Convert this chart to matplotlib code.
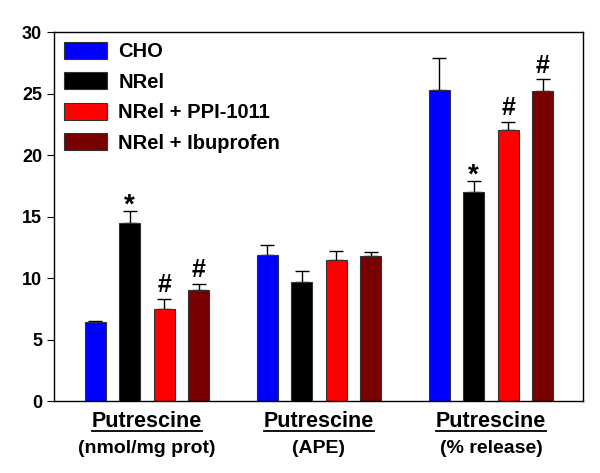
import numpy as np
import matplotlib.pyplot as plt
from matplotlib.lines import Line2D

plt.rcParams['font.family'] = ['Liberation Sans', 'DejaVu Sans']
plt.rcParams['font.weight'] = 'bold'

groups = ['(nmol/mg prot)', '(APE)', '(% release)']
series = ['CHO', 'NRel', 'NRel + PPI-1011', 'NRel + Ibuprofen']
colors = ['#0000FF', '#000000', '#FF0000', '#780000']

means = [
    [6.4, 11.9, 25.3],   # CHO
    [14.5, 9.7, 17.0],   # NRel
    [7.5, 11.5, 22.0],   # NRel + PPI-1011
    [9.0, 11.8, 25.2],   # NRel + Ibuprofen
]
errs = [
    [0.13, 0.75, 2.6],
    [0.92, 0.9, 0.85],
    [0.78, 0.7, 0.68],
    [0.5, 0.33, 0.94],
]
marks = [
    ['', '', ''],
    ['*', '', '*'],
    ['#', '', '#'],
    ['#', '', '#'],
]

fig = plt.figure(figsize=(6, 4.73), dpi=100)
ax = fig.add_axes([54 / 600, 1 - 401 / 473, 529 / 600, 369 / 473])

x = np.arange(len(groups))
w = 0.122
step = 0.2
for i, name in enumerate(series):
    pos = x + (i - 1.5) * step
    ax.bar(pos, means[i], w, color=colors[i], edgecolor='#333333', linewidth=0.8,
           label=name, zorder=2)
    ax.errorbar(pos, means[i], yerr=[np.zeros(3), errs[i]], fmt='none',
                ecolor='black', elinewidth=1, capsize=5, capthick=1, zorder=1)
    for j in range(3):
        if marks[i][j]:
            top = means[i][j] + errs[i][j]
            if marks[i][j] == '#':
                ax.text(pos[j], top + 0.15, '#', ha='center', va='bottom',
                        fontsize=18, fontweight='bold')
            else:
                ax.text(pos[j], top - 0.6, '*', ha='center', va='bottom',
                        fontsize=20, fontweight='bold')

ax.set_xlim(-0.54, 2.535)
ax.set_ylim(0, 30)
ax.set_yticks(np.arange(0, 31, 5))
ax.set_xticks([])
ax.tick_params(axis='y', direction='out', length=5, labelsize=13)
for s in ax.spines.values():
    s.set_linewidth(1)

ax.legend(loc='upper left', frameon=False, fontsize=14.5, handlelength=2.15,
          handleheight=0.9, labelspacing=0.55, handletextpad=0.55,
          borderpad=0.3, borderaxespad=0.2)

trans = ax.get_xaxis_transform()
titles = []
for j, g in enumerate(groups):
    t = ax.text(x[j], -0.028, 'Putrescine', transform=trans, ha='center', va='top',
                fontsize=15.5, fontweight='bold')
    titles.append(t)
    ax.text(x[j], -0.105, g, transform=trans, ha='center', va='top',
            fontsize=14, fontweight='bold')

fig.canvas.draw()
r = fig.canvas.get_renderer()
for t in titles:
    bb = t.get_window_extent(r)
    y0 = (bb.y0 + 1) / fig.bbox.height
    fig.add_artist(Line2D([bb.x0 / fig.bbox.width, bb.x1 / fig.bbox.width], [y0, y0],
                          color='black', linewidth=1.3))

fig.savefig('out.png', dpi=100)
